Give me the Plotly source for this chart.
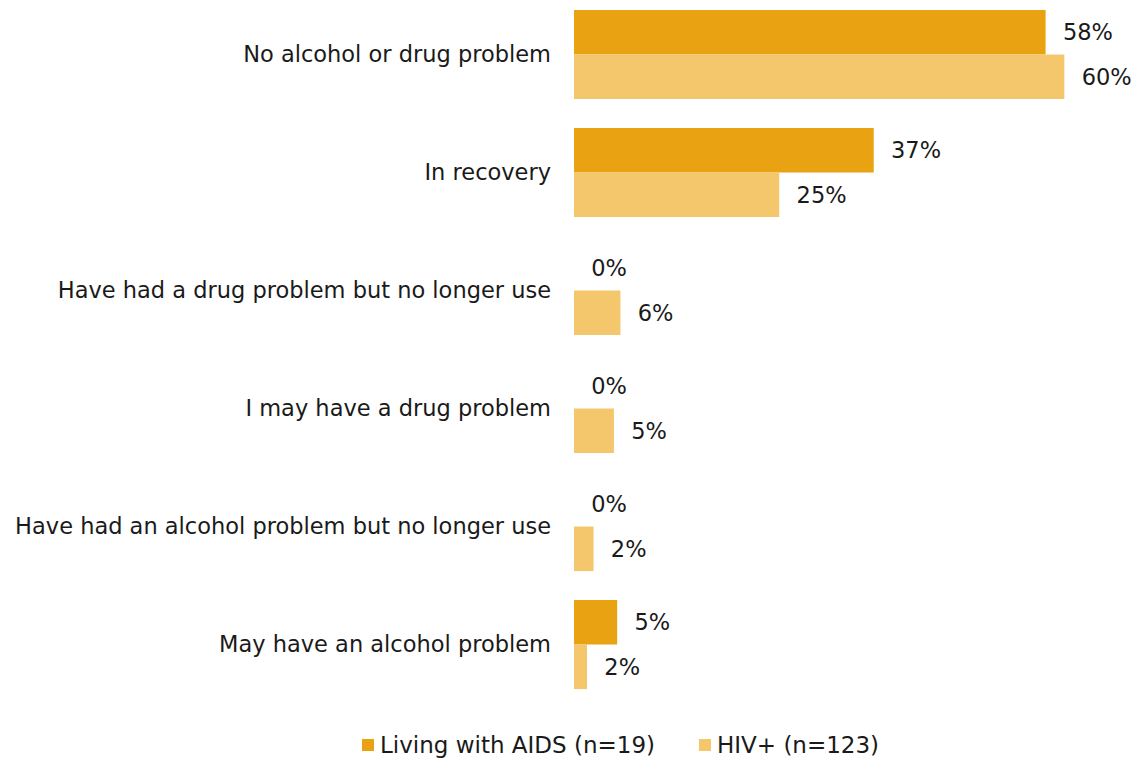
import plotly.graph_objects as go

categories = [
    "No alcohol or drug problem",
    "In recovery",
    "Have had a drug problem but no longer use",
    "I may have a drug problem",
    "Have had an alcohol problem but no longer use",
    "May have an alcohol problem",
]
aids_values = [57.9, 36.8, 0, 0, 0, 5.3]
hiv_values = [60.2, 25.2, 5.7, 4.9, 2.4, 1.6]
aids_name = "Living with AIDS (n=19)"
hiv_name = "HIV+ (n=123)"

DARK = "#E9A212"
LIGHT = "#F5C76C"
FONT = "DejaVu Sans, Verdana, sans-serif"
TXT = "#1a1a1a"
FS = 22.5

def labels(vals):
    return ["\u00a0\u00a0" + f"{round(v)}%" for v in vals]

fig = go.Figure()
fig.add_trace(go.Bar(
    y=categories, x=aids_values, orientation="h", name=aids_name,
    marker=dict(color=DARK, line=dict(width=0)),
    text=labels(aids_values), textposition="outside", cliponaxis=False,
    textfont=dict(family=FONT, size=FS, color=TXT), showlegend=False,
))
fig.add_trace(go.Bar(
    y=categories, x=hiv_values, orientation="h", name=hiv_name,
    marker=dict(color=LIGHT, line=dict(width=0)),
    text=labels(hiv_values), textposition="outside", cliponaxis=False,
    textfont=dict(family=FONT, size=FS, color=TXT), showlegend=False,
))

# custom legend (swatch + label), placed in pixel-derived paper coords
L, PW, PH = 574, 562, 702
def px(x):
    return (x - L) / PW
def py(y):
    return (PH - y) / PH

legend_items = [(aids_name, DARK, 362), (hiv_name, LIGHT, 699)]
shapes, annotations = [], []
for name, col, x0 in legend_items:
    shapes.append(dict(type="rect", xref="paper", yref="paper",
                       x0=px(x0), x1=px(x0 + 12), y0=py(751), y1=py(739),
                       fillcolor=col, line=dict(width=0)))
    annotations.append(dict(text=name, xref="paper", yref="paper",
                            x=px(x0 + 16), y=py(745), xanchor="left", yanchor="middle",
                            showarrow=False,
                            font=dict(family=FONT, size=23, color=TXT)))

fig.update_layout(
    width=1136, height=759,
    barmode="group", bargap=0.245, bargroupgap=0,
    plot_bgcolor="white", paper_bgcolor="white",
    margin=dict(l=574, r=0, t=0, b=57),
    font=dict(family=FONT, size=FS, color=TXT),
    showlegend=False,
    shapes=shapes, annotations=annotations,
)
fig.update_xaxes(range=[0, 69], visible=False, showgrid=False, zeroline=False)
fig.update_yaxes(
    type="category", categoryorder="array", categoryarray=categories,
    range=[5.487, -0.462], showgrid=False, zeroline=False, showline=False,
    ticks="", ticklabelstandoff=22,
    tickfont=dict(family=FONT, size=FS, color=TXT),
)

fig.write_html("out.html")
